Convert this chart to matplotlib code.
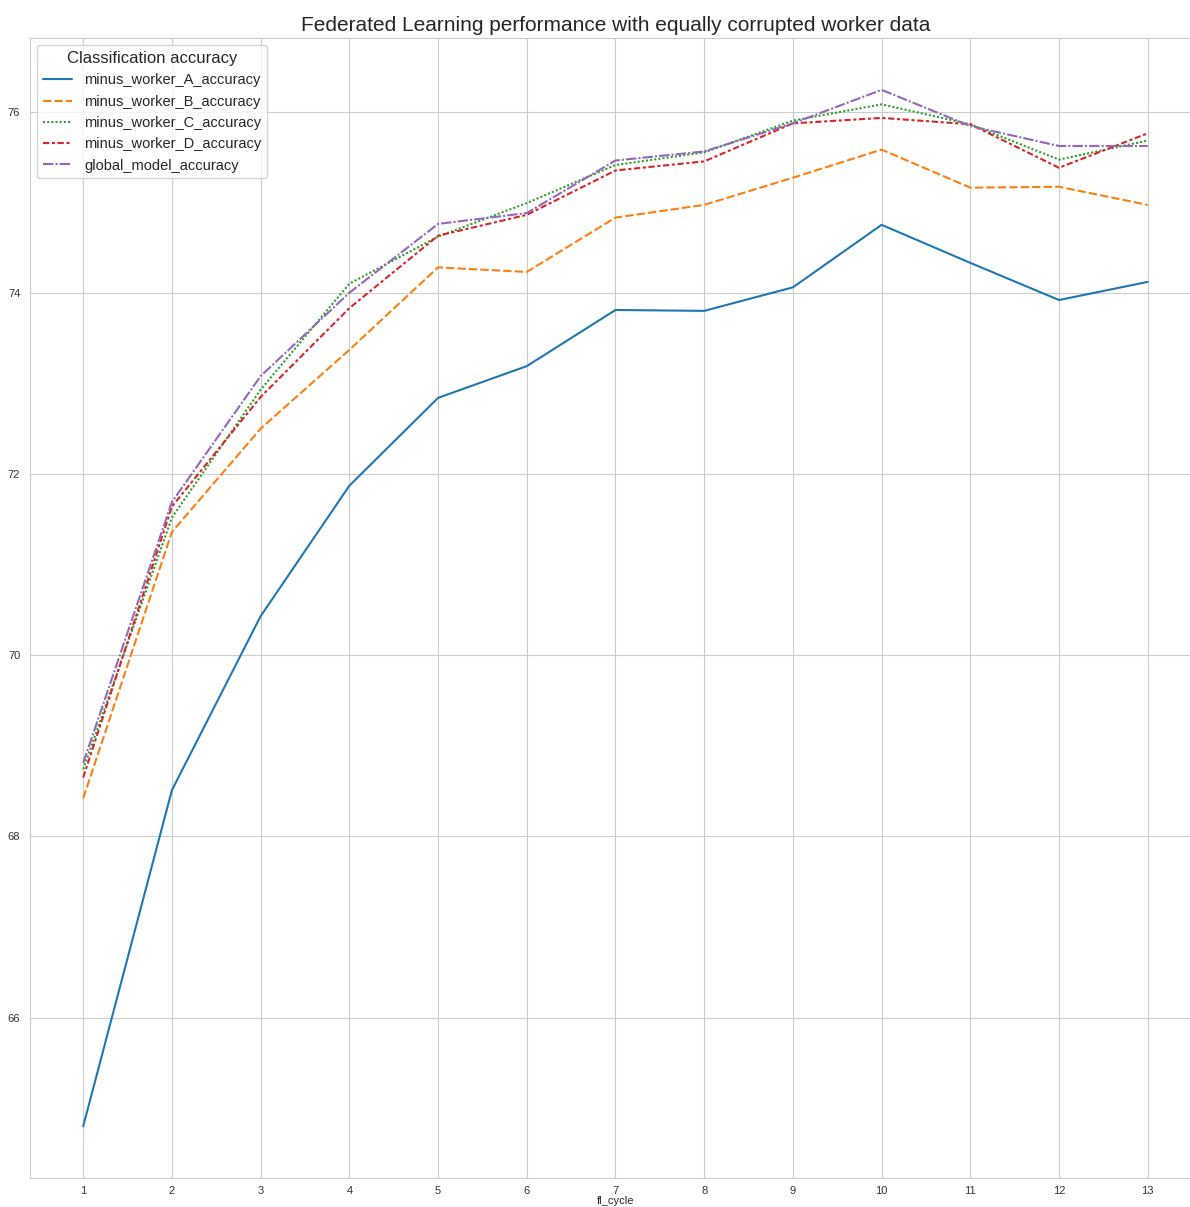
import matplotlib
matplotlib.use("Agg")
import matplotlib.pyplot as plt
import seaborn as sns
import pandas as pd

fl_cycle = list(range(1, 14))
minus_worker_A_accuracy = [64.80, 68.51, 70.43, 71.87, 72.84, 73.19, 73.81, 73.80, 74.06, 74.75, 74.33, 73.92, 74.12]
minus_worker_B_accuracy = [68.42, 71.36, 72.50, 73.37, 74.28, 74.23, 74.83, 74.97, 75.27, 75.58, 75.16, 75.17, 74.97]
minus_worker_C_accuracy = [68.74, 71.52, 72.93, 74.10, 74.62, 74.99, 75.41, 75.55, 75.90, 76.08, 75.86, 75.47, 75.68]
minus_worker_D_accuracy = [68.65, 71.64, 72.85, 73.83, 74.63, 74.86, 75.35, 75.45, 75.87, 75.93, 75.86, 75.38, 75.76]
global_model_accuracy = [68.81, 71.69, 73.08, 74.00, 74.76, 74.88, 75.46, 75.56, 75.87, 76.24, 75.84, 75.62, 75.62]

series_names = ["minus_worker_A_accuracy", "minus_worker_B_accuracy", "minus_worker_C_accuracy",
                "minus_worker_D_accuracy", "global_model_accuracy"]
series_values = [minus_worker_A_accuracy, minus_worker_B_accuracy, minus_worker_C_accuracy,
                 minus_worker_D_accuracy, global_model_accuracy]

df = pd.DataFrame({"fl_cycle": fl_cycle})
for n, v in zip(series_names, series_values):
    df[n] = v
long = df.melt(id_vars="fl_cycle", var_name="Classification accuracy", value_name="value")

sns.set_style("whitegrid")
plt.rcParams['font.family'] = ['Liberation Sans', 'DejaVu Sans']

fig = plt.figure(figsize=(11.9, 12.07), dpi=100)
ax = fig.add_axes([0.0252, 0.024, 0.984, 0.9445])
sns.lineplot(data=long, x="fl_cycle", y="value", hue="Classification accuracy",
             style="Classification accuracy", ax=ax, linewidth=1.5)
ax.set_xticks(fl_cycle)
ax.tick_params(labelsize=8, colors="#333333")
ax.tick_params(axis="x", pad=2)
ax.set_ylabel("")
ax.set_xlabel("fl_cycle", fontsize=8, labelpad=0)
ax.set_title("Federated Learning performance with equally corrupted worker data", fontsize=15, pad=5)
leg = ax.legend(title="Classification accuracy", loc="upper left", fontsize=10.5, title_fontsize=12)
fig.savefig("out.png", dpi=100)
